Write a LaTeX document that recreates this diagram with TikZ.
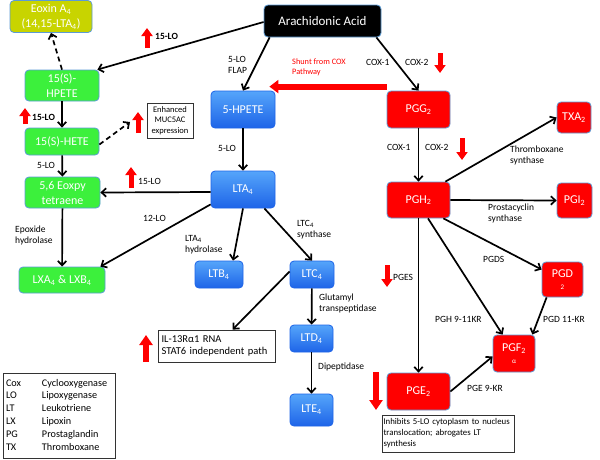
\documentclass[tikz,border=0pt]{standalone}
\usepackage{fontspec}
\setmainfont{Carlito}
\usetikzlibrary{arrows.meta,calc}
\definecolor{grn}{RGB}{60,240,60}
\definecolor{olv}{RGB}{200,212,0}
\definecolor{bt}{RGB}{85,165,250}
\definecolor{bb}{RGB}{30,100,232}
\definecolor{redc}{RGB}{255,0,0}
\definecolor{bd}{RGB}{91,155,213}
\begin{document}
\begin{tikzpicture}[x=1pt,y=-1pt,
  box/.style={rectangle, rounded corners=4pt, draw=bd, line width=0.8pt, text=white, align=center, inner sep=1pt, font=\fontsize{12}{15}\selectfont},
  sz/.style 2 args={minimum width=#1pt, minimum height=#2pt},
  gbox/.style={box, fill=grn},
  bbox/.style={box, draw=bb, top color=bt, bottom color=bb},
  rbox/.style={box, fill=redc},
  note/.style={rectangle, draw=black!80, line width=0.8pt, fill=white, inner sep=2pt},
  conn/.style={draw=black, line width=1.7pt, -{Straight Barb[length=4.5pt,width=8.5pt]}},
  dash5/.style={dash pattern=on 5pt off 3.5pt},
  lab/.style={anchor=west, align=left, inner sep=0pt, font=\fontsize{9.5}{11}\selectfont},
  blab/.style={lab, font=\fontsize{9.5}{11}\selectfont\bfseries},
  redarr/.style={draw=redc, line width=5pt, -{Triangle[length=8pt,width=11pt]}},
  bigarr/.style={draw=redc, line width=6.5pt, -{Triangle[length=10pt,width=13pt]}},
  pics/redup/.style={code={\draw[redarr] (0,0) -- (0,-#1);}},
  pics/reddown/.style={code={\draw[redarr] (0,0) -- (0,#1);}},
  pics/bigup/.style={code={\draw[bigarr] (0,0) -- (0,-#1);}},
  pics/bigdown/.style={code={\draw[bigarr] (0,0) -- (0,#1);}}
]
\useasboundingbox[fill=white] (0,0) rectangle (600,459);

% nodes
\node[box, fill=black, sz={117}{32}, font=\fontsize{13}{15}\selectfont] (aa) at (322.5,21) {Arachidonic Acid};
\node[box, fill=olv, sz={82}{32}] (eox) at (51,16.5) {Eoxin A\textsubscript{4}\\(14,15-LTA\textsubscript{4})};
\node[gbox, sz={74}{31}] (h15p) at (62,85.5) {15(S)-\\HPETE};
\node[gbox, sz={74}{27}] (h15) at (62,141.5) {15(S)-HETE};
\node[gbox, sz={75}{31}] (e56) at (62.5,192.5) {5,6 Eoxpy\\tetraene};
\node[gbox, sz={86}{26}] (lx) at (62,280) {LXA\textsubscript{4} \& LXB\textsubscript{4}};
\node[note, sz={46}{35}, align=center, font=\fontsize{8.5}{10.5}\selectfont] (muc) at (170,120.5) {Enhanced\\MUC5AC\\expression};

\node[bbox, sz={64}{37}] (h5) at (243,109.5) {5-HPETE};
\node[bbox, sz={64}{37}] (lta) at (243,189.5) {LTA\textsubscript{4}};
\node[bbox, sz={48}{27}] (ltb) at (219,274.5) {LTB\textsubscript{4}};
\node[bbox, sz={44}{27}] (ltc) at (312,274.5) {LTC\textsubscript{4}};
\node[bbox, sz={43}{27}] (ltd) at (311.5,338.5) {LTD\textsubscript{4}};
\node[bbox, sz={43}{32}] (lte) at (311.5,410) {LTE\textsubscript{4}};

\node[rbox, sz={63}{37}] (pgg) at (418.5,109.5) {PGG\textsubscript{2}};
\node[rbox, sz={34}{31}] (txa) at (574,117.5) {TXA\textsubscript{2}};
\node[rbox, sz={63}{36}] (pgh) at (418.5,200) {PGH\textsubscript{2}};
\node[rbox, sz={35}{35}] (pgi) at (574.5,200.5) {PGI\textsubscript{2}};
\node[rbox, sz={41}{35}, font=\fontsize{12}{13}\selectfont] (pgd) at (562.5,279.5) {PGD\\[-1pt]{\fontsize{7}{8}\selectfont 2}};
\node[rbox, sz={42}{37}, font=\fontsize{12}{13}\selectfont] (pgf) at (514,353.5) {PGF\textsubscript{2}\\[-1pt]{\fontsize{7}{8}\selectfont α}};
\node[rbox, sz={63}{37}] (pge) at (418.5,391.5) {PGE\textsubscript{2}};

\node[note, sz={132}{37}, align=left, text width=129pt, inner xsep=1.5pt, font=\fontsize{8.8}{11}\selectfont] (inh) at (448,433.5) {Inhibits 5-LO cytoplasm to nucleus\\translocation; abrogates LT\\synthesis};
\node[note, sz={117}{32}, align=left, text width=110pt, font=\fontsize{10.5}{12.5}\selectfont] (il) at (216.5,346) {IL-13Rα1 RNA\\STAT6 independent path};
\node[note, sz={112}{85}, text width=106pt, inner xsep=3pt, font=\fontsize{10.2}{12.8}\selectfont] (leg) at (59,415.5) {%
\begin{tabular}{@{}p{36pt}@{}l@{}}
Cox & Cyclooxygenase\\
LO & Lipoxygenase\\
LT & Leukotriene\\
LX & Lipoxin\\
PG & Prostaglandin\\
TX & Thromboxane
\end{tabular}};

% connectors
\draw[conn] ($(aa.west)+(0,1)$) -- ($(h15p.north east)+(-2,0)$);
\draw[conn] ($(aa.south west)+(6,0)$) -- (h5.north);
\draw[conn] ($(aa.south east)+(-5,0)$) -- (pgg.north);
\draw[conn] (pgg) -- (pgh);
\draw[conn] ($(pgh.north east)+(-5,0)$) -- (txa.west);
\draw[conn] (pgh.east) -- (pgi.west);
\draw[conn] ($(pgh.south east)+(-7,0)$) -- ($(pgd.west)+(0,-10)$);
\draw[conn] ($(pgh.south)+(9.5,0)$) -- ($(pgf.north west)+(10,0)$);
\draw[conn] (pgh) -- (pge);
\draw[conn] ($(pgd.south west)+(5,0)$) -- ($(pgf.north east)+(-3,0)$);
\draw[conn] (pge.east) -- ($(pgf.west)+(0,3)$);
\draw[conn] (h5) -- (lta);
\draw[conn] ($(lta.west)+(0,2.5)$) -- (e56.east);
\draw[conn] ($(lta.south west)+(0,-4)$) -- ($(lx.north east)+(-5,0)$);
\draw[conn] (lta.south) -- ($(ltb.north)+(14,0)$);
\draw[conn] ($(lta.south east)+(-11,0)$) -- (ltc.north);
\draw[conn] ($(ltc.west)+(0,-3)$) -- ($(il.north)+(16,0)$);
\draw[conn] (ltc) -- (ltd);
\draw[conn] (ltd) -- (lte);
\draw[conn, dash5] (h15p.north) -- (eox.south);
\draw[conn] (h15p) -- (h15);
\coordinate (mucend) at (130,122);
\draw[conn, dash5] ($(h15.east)+(0,3)$) -- (mucend);
\draw[conn] (h15) -- (e56);
\draw[conn] (e56) -- (lx);

% shunt
\draw[draw=redc, line width=6pt, -{Triangle[length=9pt,width=13pt]}] ($(pgg.north west)+(0,-4)$) -- ($(h5.north east)+(-6,-4)$);
\node[lab, text=redc, font=\fontsize{8.3}{10}\selectfont] (shunt) at (292,67.5) {Shunt from COX\\Pathway};

% red arrows
\pic at (147,48) {redup=20};
\pic at (25,124) {redup=16};
\pic at (138,133) {redup=21};
\pic at (131,188) {redup=21};
\pic at (440,53) {reddown=20};
\pic at (462,138) {reddown=22};
\pic at (387,265) {reddown=22};
\pic at (376,372) {bigdown=38};
\pic at (146,362) {bigup=27};

% labels
\node[lab] (l1) at (228,64.5) {5-LO\\FLAP};
\node[lab] (l2) at (366,62) {COX-1};
\node[lab] (l3) at (405,62) {COX-2};
\node[lab] (l4) at (387,147) {COX-1};
\node[lab] (l5) at (425,147) {COX-2};
\node[lab] (l6) at (510,155.5) {Thromboxane\\synthase};
\node[lab] (l7) at (488,213.5) {Prostacyclin\\synthase};
\node[lab] (l8) at (483,259) {PGDS};
\node[lab] (l9) at (393,277) {PGES};
\node[lab] (l10) at (435,319) {PGH 9-11KR};
\node[lab] (l11) at (543,319) {PGD 11-KR};
\node[lab] (l12) at (467,388) {PGE 9-KR};
\node[lab] (l13) at (37,165) {5-LO};
\node[lab] (l14) at (138,181) {15-LO};
\node[lab] (l15) at (143,218) {12-LO};
\node[lab] (l16) at (15,235) {Epoxide\\hydrolase};
\node[lab] (l17) at (218,148) {5-LO};
\node[lab] (l18) at (185,245) {LTA\textsubscript{4}\\hydrolase};
\node[lab] (l19) at (297,230) {LTC\textsubscript{4}\\synthase};
\node[lab] (l20) at (319,303.5) {Glutamyl\\transpeptidase};
\node[lab] (l21) at (318,367) {Dipeptidase};
\node[blab] (l22) at (155,36) {15-LO};
\node[blab] (l23) at (32,117) {15-LO};
\end{tikzpicture}
\end{document}
